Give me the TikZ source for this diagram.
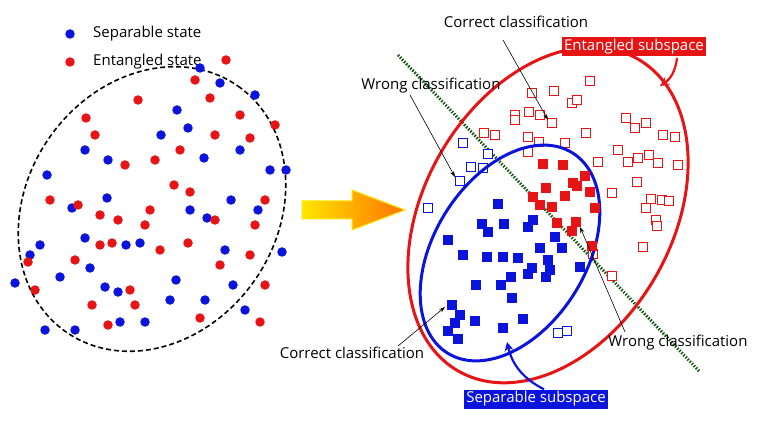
\documentclass[tikz,border=0pt]{standalone}
\usepackage{fontspec}
\setmainfont{Open Sans}
\usetikzlibrary{arrows.meta}
\definecolor{sred}{RGB}{230,20,20}
\definecolor{sblue}{RGB}{10,20,220}
\definecolor{dgreen}{RGB}{20,90,20}
\begin{document}
\begin{tikzpicture}[x=1pt,y=-1pt,
 bdot/.style={circle,fill=sblue,inner sep=0pt,minimum size=9.5pt},
 rdot/.style={circle,fill=sred,inner sep=0pt,minimum size=9.5pt},
 fsq/.style={fill=#1,inner sep=0pt,minimum size=10pt},
 hsq/.style={draw=#1,line width=1.3pt,fill=white,inner sep=0pt,minimum size=9pt},
 lbl/.style={font=\fontsize{15}{17}\selectfont,inner sep=1pt},
 box/.style={font=\fontsize{15}{17}\selectfont,text=white,fill=#1,inner sep=2pt},
 arr/.style={-{Stealth[length=6pt,width=4pt]},line width=0.6pt}]
\useasboundingbox (0,0) rectangle (758,422);
% legend
\node[bdot] (lb) at (70,34) {};
\node[lbl,anchor=west] (lbt) at (92,34) {Separable state};
\node[rdot] (lr) at (70,62) {};
\node[lbl,anchor=west] (lrt) at (92,62) {Entangled state};
% left ellipse
\draw[line width=1.6pt,dash pattern=on 5pt off 3pt] (152,209) ellipse[x radius=150,y radius=125,rotate=55];
\foreach \p in {(200,68),(177,110),(188,128),(161,135),(220,83),(255,95),(85,150),(108,160),(47,175),(107,198),(72,208),(204,158),(240,150),(270,170),(286,170),(258,210),(231,200),(207,218),(126,245),(140,243),(40,245),(30,255),(90,268),(60,277),(15,283),(105,287),(118,292),(176,280),(170,300),(233,285),(205,300),(245,310),(282,252),(45,330),(75,330),(145,322),(120,322),(225,250),(85,238),(190,210)}
  \node[bdot] at \p {};
\foreach \p in {(226,60),(195,80),(210,98),(138,100),(86,118),(95,135),(240,115),(275,125),(215,135),(250,138),(155,160),(180,150),(125,165),(50,200),(78,205),(174,185),(190,192),(265,200),(100,215),(118,220),(145,225),(215,220),(255,225),(100,245),(112,243),(188,243),(160,250),(220,265),(265,285),(250,255),(35,290),(75,260),(130,290),(92,305),(135,305),(200,318),(260,322),(108,325),(28,262),(150,210)}
  \node[rdot] at \p {};
% big arrow
\shade[left color=yellow!80!orange,right color=orange!90!red,draw=yellow!90!orange,line width=1pt]
 (302,201)--(352,201)--(352,190)--(405,210)--(352,230)--(352,219)--(302,219)--cycle;
% separating line
\draw[dgreen,line width=3pt,dash pattern=on 1.5pt off 1.5pt] (398,55)--(700,372);
% ellipses
\draw[sred,line width=3pt] (548,215) ellipse[x radius=180,y radius=124,rotate=60];
\foreach \p in {(590,81),(554,91),(532,93),(572,103),(577,100),(515,115),(515,120),(529,112),(540,115),(552,123),(484,133),(495,135),(528,137),(539,142),(565,143),(528,152),(586,133),(598,162),(626,118),(635,128),(646,123),(663,135),(675,137),(618,150),(628,162),(638,158),(649,155),(658,163),(678,165),(637,182),(612,193),(651,199),(662,200),(669,201),(646,208),(656,220),(657,226),(643,247),(612,276),(593,254)}
  \node[hsq=sred] at \p {};
\foreach \p in {(463,143),(488,154),(471,167),(483,168),(460,181),(428,208),(558,333),(567,331)}
  \node[hsq=sblue] at \p {};
\draw[sblue,line width=3pt] (510,253) ellipse[x radius=118,y radius=76,rotate=58];
\foreach \p in {(543,164),(563,165),(585,176),(577,186),(573,183),(546,188),(590,192),(565,196),(533,197),(540,205),(552,207),(595,208),(557,223),(576,222),(572,231),(592,246)}
  \node[fsq=sred] at \p {};
\foreach \p in {(498,204),(482,224),(488,232),(504,224),(533,220),(528,227),(448,240),(555,237),(562,248),(540,248),(463,255),(487,257),(503,257),(518,258),(548,260),(532,268),(550,270),(528,274),(546,277),(580,267),(511,277),(476,285),(501,285),(512,298),(452,305),(460,315),(475,321),(455,323),(503,328),(523,319),(448,331),(458,339)}
  \node[fsq=sblue] at \p {};
% labels
\node[lbl] (cc1) at (516,22) {Correct classification};
\coordinate (cc1e) at (548,120);
\draw[arr] (503,40)--(cc1e);
\node[box=sred] (es) at (634,47) {Entangled subspace};
\coordinate (ese) at (660,86);
\draw[sred,line width=2.2pt,-{Stealth[length=9pt,width=9pt]}] (677,58) to[bend left=25] (ese);
\node[lbl] (wc1) at (431,86) {Wrong classification};
\coordinate (wc1e) at (455,177);
\draw[arr] (410,95)--(wc1e);
\node[lbl] (cc2) at (352,353) {Correct classification};
\coordinate (cc2e) at (445,307);
\draw[arr] (398,346)--(cc2e);
\node[lbl] (wc2) at (678,343) {Wrong classification};
\coordinate (wc2e) at (580,227);
\draw[arr] (625,332)--(wc2e);
\node[box=sblue] (ss) at (536,399) {Separable subspace};
\coordinate (sse) at (507,342);
\draw[sblue,line width=2.2pt,-{Stealth[length=9pt,width=9pt]}] (ss.north) ++(8,0) to[bend left=25] (sse);
\end{tikzpicture}
\end{document}
